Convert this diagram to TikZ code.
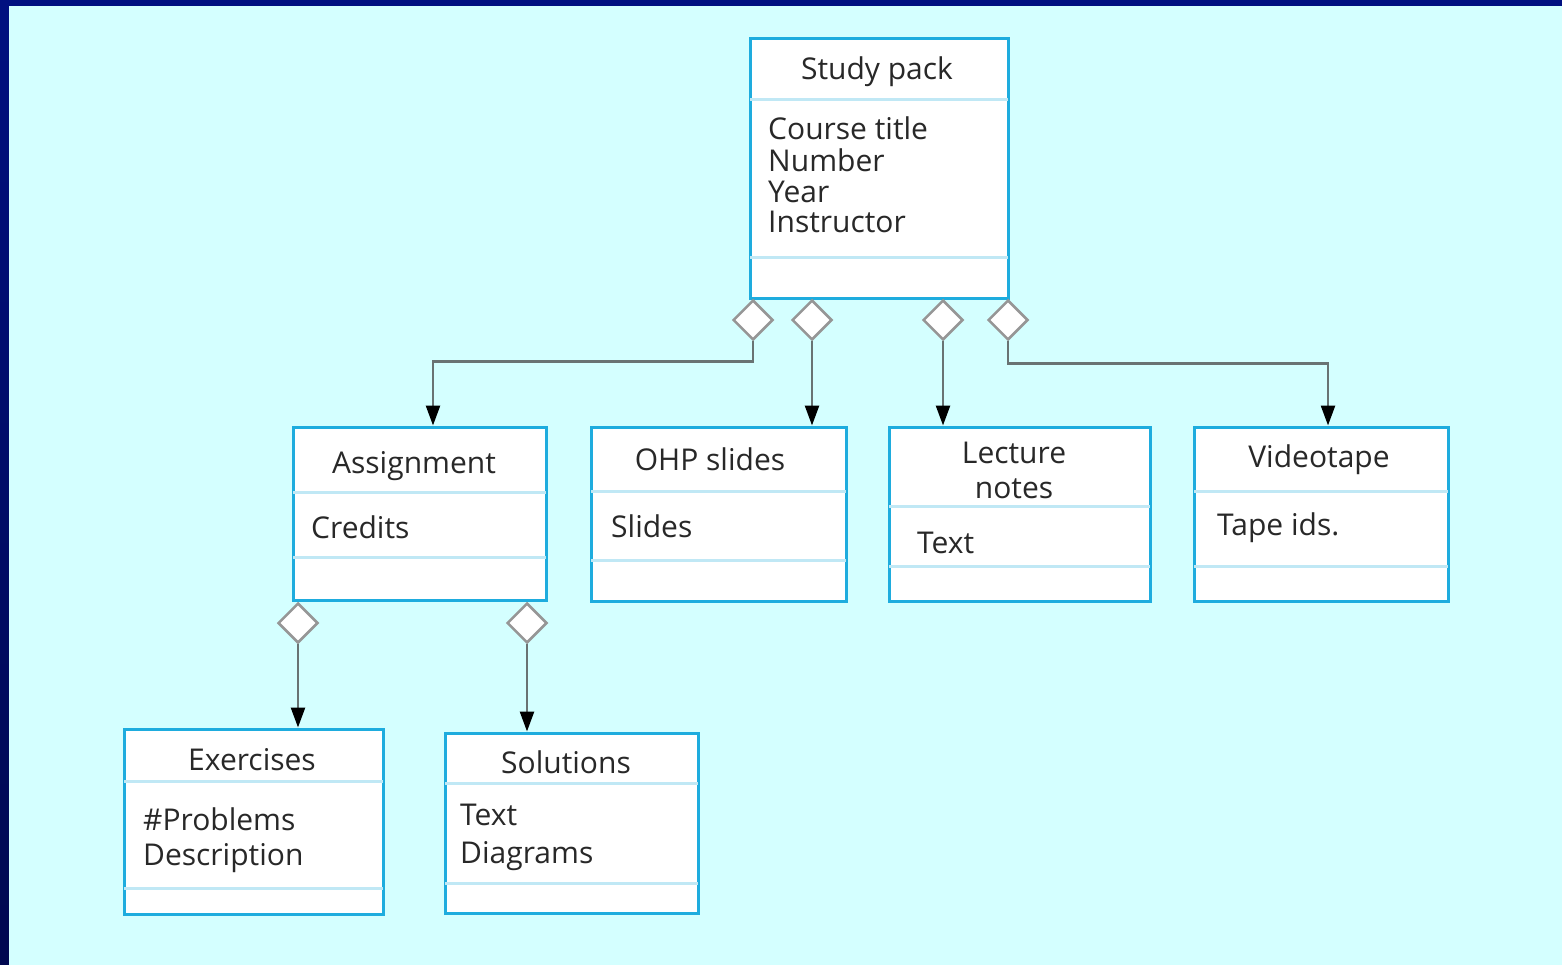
\documentclass[tikz,border=0pt]{standalone}
\usepackage{fontspec}
\setmainfont{Open Sans}
\usetikzlibrary{shapes.geometric,arrows.meta}
\definecolor{bgc}{RGB}{212,255,255}
\definecolor{frametop}{RGB}{0,16,128}
\definecolor{framebot}{RGB}{0,8,80}
\definecolor{boxc}{RGB}{30,172,222}
\definecolor{divc}{RGB}{192,232,245}
\definecolor{linec}{RGB}{105,115,115}
\definecolor{diac}{RGB}{150,150,150}
\definecolor{txtc}{RGB}{40,40,40}
\tikzset{
  umlbox/.style={draw=boxc, line width=3pt, fill=white, rectangle, inner sep=0pt},
  divline/.style={draw=divc, line width=3pt},
  agg/.style={diamond, draw=diac, fill=white, line width=2.5pt, minimum width=40pt, minimum height=40pt, inner sep=0pt},
  conn/.style={draw=linec, line width=2.5pt, -{Triangle[length=20pt,width=14pt,color=black]}},
  ttl/.style={anchor=base, inner sep=0pt, text=txtc, font=\fontsize{30}{31}\selectfont},
  attr/.style={anchor=base west, inner sep=0pt, text=txtc, font=\fontsize{30}{31}\selectfont},
}
\begin{document}
\begin{tikzpicture}[x=1pt, y=-1pt]
\useasboundingbox (0,0) rectangle (1562,965);
% background and frame
\fill[frametop] (0,0) rectangle (1562,6);
\shade[top color=frametop, bottom color=framebot] (0,0) rectangle (9,965);
\fill[bgc] (9,6) rectangle (1562,965);

% boxes
\node[umlbox, minimum width=258pt, minimum height=260pt] (sp) at (879,169) {};
\node[umlbox, minimum width=253pt, minimum height=173pt] (as) at (419.5,513.5) {};
\node[umlbox, minimum width=255pt, minimum height=174pt] (ohp) at (718.5,514) {};
\node[umlbox, minimum width=261pt, minimum height=174pt] (lec) at (1019.5,514) {};
\node[umlbox, minimum width=254pt, minimum height=174pt] (vid) at (1321,514) {};
\node[umlbox, minimum width=259pt, minimum height=185pt] (ex) at (253.5,821.5) {};
\node[umlbox, minimum width=253pt, minimum height=180pt] (sol) at (571.5,823) {};

% compartment dividers
\draw[divline] ([xshift=1.5pt]sp.west |- 0,100) -- ([xshift=-1.5pt]sp.east |- 0,100);
\draw[divline] ([xshift=1.5pt]sp.west |- 0,258) -- ([xshift=-1.5pt]sp.east |- 0,258);
\draw[divline] ([xshift=1.5pt]as.west |- 0,492) -- ([xshift=-1.5pt]as.east |- 0,492);
\draw[divline] ([xshift=1.5pt]as.west |- 0,557) -- ([xshift=-1.5pt]as.east |- 0,557);
\draw[divline] ([xshift=1.5pt]ohp.west |- 0,491) -- ([xshift=-1.5pt]ohp.east |- 0,491);
\draw[divline] ([xshift=1.5pt]ohp.west |- 0,560) -- ([xshift=-1.5pt]ohp.east |- 0,560);
\draw[divline] ([xshift=1.5pt]lec.west |- 0,506) -- ([xshift=-1.5pt]lec.east |- 0,506);
\draw[divline] ([xshift=1.5pt]lec.west |- 0,566) -- ([xshift=-1.5pt]lec.east |- 0,566);
\draw[divline] ([xshift=1.5pt]vid.west |- 0,491) -- ([xshift=-1.5pt]vid.east |- 0,491);
\draw[divline] ([xshift=1.5pt]vid.west |- 0,566) -- ([xshift=-1.5pt]vid.east |- 0,566);
\draw[divline] ([xshift=1.5pt]ex.west |- 0,781) -- ([xshift=-1.5pt]ex.east |- 0,781);
\draw[divline] ([xshift=1.5pt]ex.west |- 0,888) -- ([xshift=-1.5pt]ex.east |- 0,888);
\draw[divline] ([xshift=1.5pt]sol.west |- 0,783) -- ([xshift=-1.5pt]sol.east |- 0,783);
\draw[divline] ([xshift=1.5pt]sol.west |- 0,883) -- ([xshift=-1.5pt]sol.east |- 0,883);

% texts
\node[ttl] (tsp) at (877,80) {Study pack};
\node[attr] (a1) at (768,140) {Course title};
\node[attr] (a2) at (768,172) {Number};
\node[attr] (a3) at (768,203) {Year};
\node[attr] (a4) at (768,233) {Instructor};

\node[ttl] (tas) at (414,473) {Assignment};
\node[attr] (b1) at (311,538) {Credits};

\node[ttl] (tohp) at (710,470) {OHP slides};
\node[attr] (c1) at (611,537) {Slides};

\node[ttl] (tlec1) at (1014,463) {Lecture};
\node[ttl] (tlec2) at (1014,498) {notes};
\node[attr] (d1t) at (917,553) {Text};

\node[ttl] (tvid) at (1319,467) {Videotape};
\node[attr] (e1t) at (1217,535) {Tape ids.};

\node[ttl] (tex) at (252,770) {Exercises};
\node[attr] (f1) at (143,830) {\#Problems};
\node[attr] (f2) at (143,865) {Description};

\node[ttl] (tsol) at (566,773) {Solutions};
\node[attr] (g1) at (460,825) {Text};
\node[attr] (g2) at (460,863) {Diagrams};

% aggregation diamonds
\node[agg] (d1) at (753,320) {};
\node[agg] (d2) at (812,320) {};
\node[agg] (d3) at (943,320) {};
\node[agg] (d4) at (1008,320) {};
\node[agg] (e1) at (298,623) {};
\node[agg] (e2) at (527,623) {};

% connectors
\draw[conn] (d1.south) -- ++(0,20) -| ([xshift=13.5pt]as.north);
\draw[conn] (d2.south) -- (d2.south |- ohp.north);
\draw[conn] (d3.south) -- (d3.south |- lec.north);
\draw[conn] (d4.south) -- ++(0,22) -| ([xshift=7pt]vid.north);
\draw[conn] (e1.south) -- (e1.south |- ex.north);
\draw[conn] (e2.south) -- (e2.south |- sol.north);
\end{tikzpicture}
\end{document}
